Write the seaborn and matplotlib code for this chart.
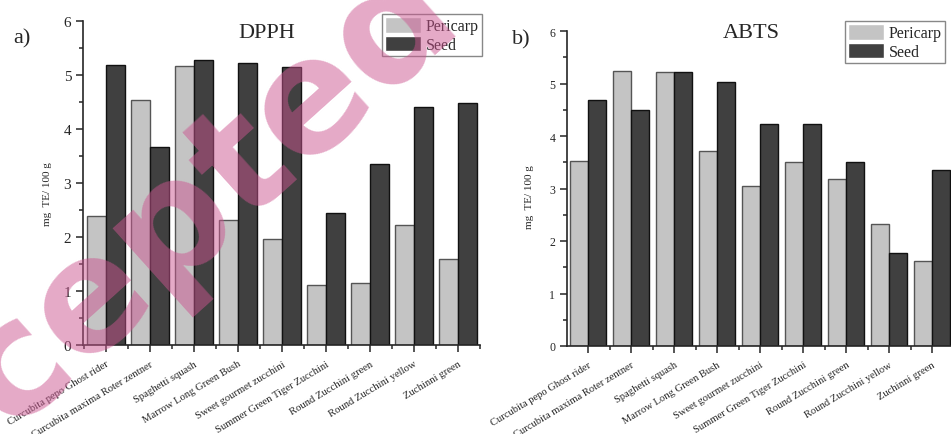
import pandas as pd
import seaborn as sns
import matplotlib.pyplot as plt
import matplotlib.ticker as ticker

# %%
varieties = ["Curcubita pepo Ghost rider", "Curcubita maxima Roter zentner",
             "Spaghetti squash", "Marrow Long Green Bush", "Sweet gourmet zucchini",
             "Summer Green Tiger Zucchini", "Round Zucchini green",
             "Round Zucchini yellow", "Zuchinni green"]
parts = ["Pericarp", "Seed"]

dpph_pericarp = [2.39, 4.53, 5.17, 2.32, 1.96, 1.11, 1.15, 2.22, 1.59]
dpph_seed = [5.18, 3.67, 5.28, 5.23, 5.15, 2.44, 3.36, 4.41, 4.48]
abts_pericarp = [3.53, 5.24, 5.22, 3.71, 3.04, 3.50, 3.18, 2.33, 1.61]
abts_seed = [4.69, 4.50, 5.21, 5.03, 4.22, 4.22, 3.51, 1.77, 3.35]

# %%
def long_df(pericarp, seed):
    return pd.DataFrame({
        "variety": varieties * 2,
        "part": [parts[0]] * len(varieties) + [parts[1]] * len(varieties),
        "value": list(pericarp) + list(seed),
    })

sns.set_style("ticks")
plt.rcParams["font.family"] = ["Liberation Serif", "DejaVu Serif"]

fig = plt.figure(figsize=(9.51, 4.35), dpi=100)
ax1 = fig.add_axes([83 / 951, 1 - 346 / 435, 397 / 951, 324 / 435])
ax2 = fig.add_axes([567 / 951, 1 - 347 / 435, 384 / 951, 315 / 435])

face = ["#c4c4c4", "#404040"]
edge = ["#555555", "#111111"]

panels = [
    (ax1, long_df(dpph_pericarp, dpph_seed), (-0.52, 8.5), 11, 7.7,
     (482 / 951, 1 - 15 / 435)),
    (ax2, long_df(abts_pericarp, abts_seed), (-0.49, 8.44), 8.5, 7.6,
     (945 / 951, 1 - 22 / 435)),
]

for ax, df, xlim, ytick_fs, xtick_fs, leg_pos in panels:
    sns.barplot(data=df, x="variety", y="value", hue="part", hue_order=parts,
                palette=face, width=0.85, saturation=1, linewidth=1.0,
                errorbar=None, ax=ax)
    for cont, ec in zip(ax.containers, edge):
        for bar in cont:
            bar.set_edgecolor(ec)
    ax.set_xlim(*xlim)
    ax.set_ylim(0, 6)
    ax.set_xlabel("")
    ax.set_ylabel("")
    ax.yaxis.set_major_locator(ticker.MultipleLocator(1))
    ax.yaxis.set_minor_locator(ticker.MultipleLocator(0.5))
    ax.xaxis.set_minor_locator(ticker.FixedLocator([i + 0.5 for i in range(-1, 9)]))
    ax.tick_params(axis="both", which="major", direction="out", length=5, width=1.1)
    ax.tick_params(axis="both", which="minor", direction="out", length=3, width=1.1)
    ax.tick_params(axis="y", labelsize=ytick_fs)
    ax.tick_params(axis="x", which="major", pad=5)
    ax.set_xticks(range(len(varieties)))
    ax.set_xticklabels(varieties, rotation=31, ha="right", rotation_mode="anchor",
                       fontsize=xtick_fs)
    sns.despine(ax=ax)
    for s in ["left", "bottom"]:
        ax.spines[s].set_linewidth(1.2)
    handles, labels = ax.get_legend_handles_labels()
    ax.legend(handles, labels, loc="upper right", bbox_to_anchor=leg_pos,
              bbox_transform=fig.transFigure, fontsize=11.5, frameon=True,
              fancybox=False, edgecolor="#888888", framealpha=1,
              handlelength=2.25, handleheight=1.1, labelspacing=0.08,
              borderpad=0.2, handletextpad=0.3, borderaxespad=0)

fig.text(0.023, 0.91, "a)", fontsize=16, ha="center", va="center")
fig.text(0.548, 0.908, "b)", fontsize=16, ha="center", va="center")
fig.text(0.28, 0.924, "DPPH", fontsize=16, ha="center", va="center")
fig.text(0.79, 0.922, "ABTS", fontsize=16, ha="center", va="center")
fig.text(0.05, 0.555, "mg  TE/ 100 g", fontsize=8, rotation=90, ha="center", va="center")
fig.text(0.557, 0.547, "mg  TE/ 100 g", fontsize=8, rotation=90, ha="center", va="center")

# watermark
fig.text(0.136, 0.378, "Accepted", fontsize=114, fontweight="bold",
         family=["DejaVu Sans"], color="#cc5590", alpha=0.5,
         rotation=42, rotation_mode="anchor", ha="center", va="center", zorder=10)

fig.savefig("out.png", dpi=100)
